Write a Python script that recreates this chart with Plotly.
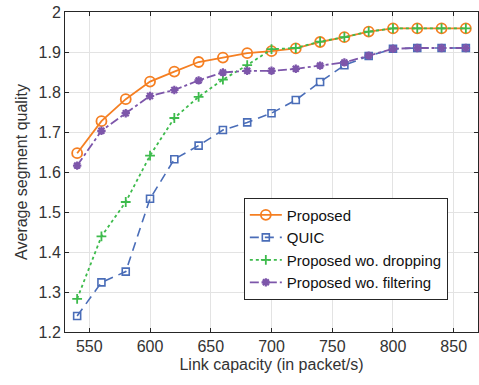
import plotly.graph_objects as go

capacity = [540, 560, 580, 600, 620, 640, 660, 680, 700, 720, 740, 760, 780, 800, 820, 840, 860]
proposed = [1.647, 1.727, 1.782, 1.826, 1.851, 1.875, 1.886, 1.897, 1.902, 1.909, 1.925, 1.937, 1.951, 1.959, 1.959, 1.959, 1.959]
quic = [1.240, 1.324, 1.351, 1.533, 1.632, 1.666, 1.705, 1.724, 1.747, 1.780, 1.825, 1.867, 1.890, 1.908, 1.910, 1.910, 1.910]
wo_dropping = [1.283, 1.439, 1.525, 1.641, 1.735, 1.788, 1.831, 1.867, 1.907, 1.910, 1.926, 1.937, 1.951, 1.959, 1.959, 1.959, 1.959]
wo_filtering = [1.616, 1.703, 1.747, 1.790, 1.805, 1.829, 1.849, 1.853, 1.853, 1.858, 1.866, 1.874, 1.891, 1.908, 1.910, 1.910, 1.910]

x_ticks = [550, 600, 650, 700, 750, 800, 850]
y_ticks = [1.2, 1.3, 1.4, 1.5, 1.6, 1.7, 1.8, 1.9, 2.0]
y_tick_text = ["1.2", "1.3", "1.4", "1.5", "1.6", "1.7", "1.8", "1.9", "2"]

ORANGE = "#F57F22"
BLUE = "#4A6DB8"
GREEN = "#3DBB4C"
PURPLE = "#7D56AA"
FONT = "Liberation Sans, Arial, sans-serif"
TXT = "#333333"

fig = go.Figure()
fig.add_trace(go.Scatter(
    x=capacity, y=proposed, name="Proposed", mode="lines+markers",
    line=dict(color=ORANGE, width=1.8, dash="solid"),
    marker=dict(symbol="circle-open", size=10, color=ORANGE, line=dict(width=1.8, color=ORANGE)),
))
fig.add_trace(go.Scatter(
    x=capacity, y=quic, name="QUIC", mode="lines+markers",
    line=dict(color=BLUE, width=1.6, dash="9px,6px"),
    marker=dict(symbol="square-open", size=7, color=BLUE, line=dict(width=1.6, color=BLUE)),
))
fig.add_trace(go.Scatter(
    x=capacity, y=wo_dropping, name="Proposed wo. dropping", mode="lines+markers",
    line=dict(color=GREEN, width=1.8, dash="dot"),
    marker=dict(symbol="cross-thin-open", size=7, color=GREEN, line=dict(width=1.8, color=GREEN)),
))
fig.add_trace(go.Scatter(
    x=capacity, y=wo_filtering, name="Proposed wo. filtering", mode="lines+markers",
    line=dict(color=PURPLE, width=1.8, dash="dashdot"),
    marker=dict(symbol="asterisk-open", size=7, color=PURPLE, line=dict(width=2.2, color=PURPLE)),
))

axis_common = dict(
    showgrid=True, gridcolor="#E3E3E3", gridwidth=1,
    showline=True, linecolor="#262626", linewidth=1, mirror="ticks",
    ticks="inside", ticklen=4, tickcolor="#262626",
    zeroline=False,
    tickfont=dict(family=FONT, size=16, color=TXT),
    title_font=dict(family=FONT, size=16, color=TXT),
)

fig.update_xaxes(range=[530, 870], tickvals=x_ticks, title_text="Link capacity (in packet/s)",
                 title_standoff=4, **axis_common)
fig.update_yaxes(range=[1.2, 2.0], tickvals=y_ticks, ticktext=y_tick_text,
                 title_text="Average segment quality", title_standoff=6, **axis_common)

fig.update_layout(
    width=479, height=385,
    margin=dict(l=65, r=1, t=12, b=53),
    paper_bgcolor="white", plot_bgcolor="white",
    font=dict(family=FONT, size=16, color=TXT),
    legend=dict(
        x=0.433, y=0.42, xanchor="left", yanchor="top",
        bgcolor="white", bordercolor="#262626", borderwidth=1,
        font=dict(family=FONT, size=15, color="#111111"),
        tracegroupgap=0, itemwidth=32,
    ),
    showlegend=True,
)

fig.write_html(
    "out.html",
    config={"displayModeBar": False},
    post_script="document.body.style.margin='0';document.body.style.overflow='hidden';",
)
